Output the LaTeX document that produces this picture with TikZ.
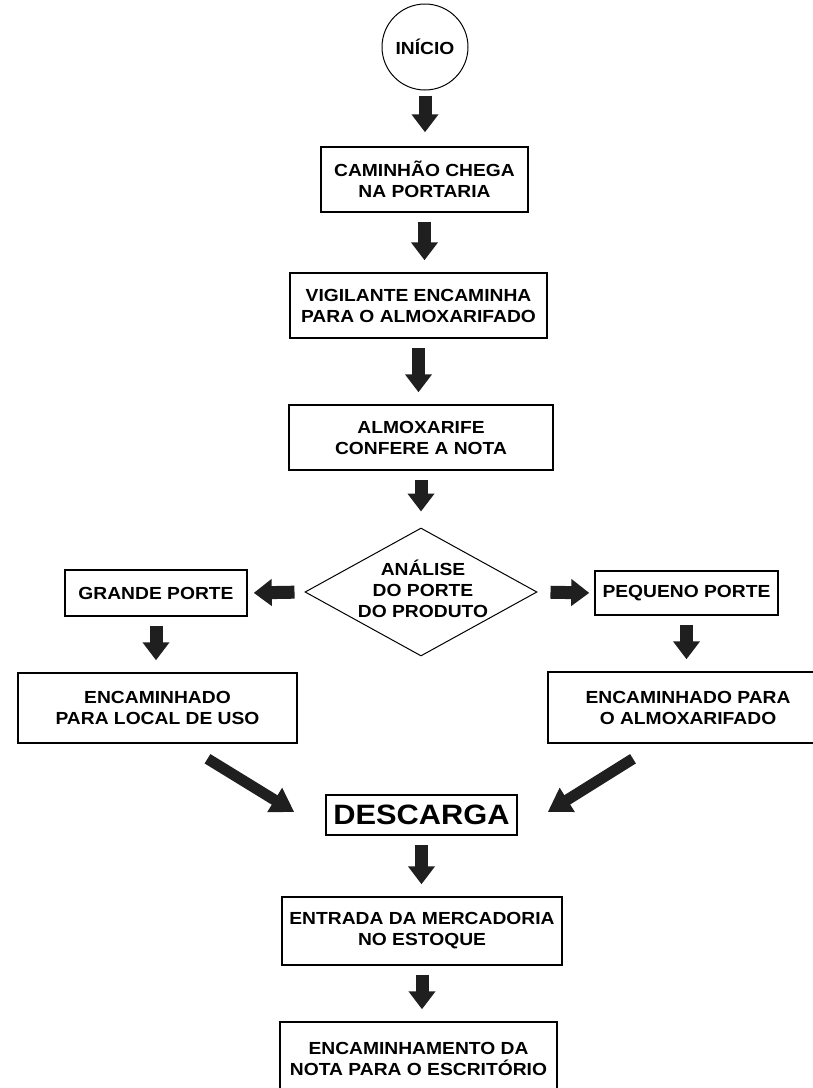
\documentclass[tikz,border=0pt]{standalone}
\usepackage{fontspec}
\newfontfamily\fluxo{Liberation Sans}[FakeStretch=1.1]
\usetikzlibrary{arrows.meta,shapes.geometric}

\begin{document}
\begin{tikzpicture}[x=1pt,y=-1pt,
		caixa/.style={draw,line width=1.5pt,inner sep=0pt,align=center,
			font=\fluxo\bfseries\fontsize{17.5}{21}\selectfont},
		texto/.style={inner sep=0pt,align=center,
			font=\fluxo\bfseries\fontsize{17.5}{21}\selectfont},
		seta/.style={line width=13pt,black!88,-{Triangle[width=26pt,length=18pt]},
			shorten <=9pt,shorten >=12pt},
		diagonal/.style={line width=11pt,black!88,-{Triangle[width=27pt,length=23pt]}}]
		\useasboundingbox (0,0) rectangle (813,1088);
		% coluna central
		\node[texto,circle,draw,line width=1pt,minimum size=86pt] (inicio) at (425,47) {INÍCIO};
		\node[caixa,minimum width=207pt,minimum height=65pt] (caminhao) at (424.5,179.5) {CAMINHÃO CHEGA\\NA PORTARIA};
		\node[caixa,minimum width=257pt,minimum height=65pt] (vigilante) at (418.5,305.5) {VIGILANTE ENCAMINHA\\PARA O ALMOXARIFADO};
		\node[caixa,minimum width=264pt,minimum height=65pt] (almoxarife) at (421,437.5) {ALMOXARIFE\\CONFERE A NOTA};
		\node[diamond,draw,line width=1pt,minimum width=232pt,minimum height=128pt,inner sep=0pt] (analise) at (421,592) {};
		\node[texto] (analisetxt) at (423,588.5) {ANÁLISE\\DO PORTE\\DO PRODUTO};
		% ramos
		\node[caixa,minimum width=182pt,minimum height=46pt] (grande) at (156,593) {GRANDE PORTE};
		\node[caixa,minimum width=183pt,minimum height=44pt] (pequeno) at (686.5,593) {PEQUENO PORTE};
		\node[caixa,minimum width=279pt,minimum height=70pt] (localuso) at (157.5,708) {ENCAMINHADO\\PARA LOCAL DE USO};
		\node[caixa,minimum width=280pt,minimum height=71pt] (almoxpeq) at (688,707.5) {ENCAMINHADO PARA\\O ALMOXARIFADO};
		% final
		\node[caixa,minimum width=191pt,minimum height=40pt,font=\fluxo\bfseries\fontsize{28}{30}\selectfont] (descarga) at (421.5,815) {DESCARGA};
		\node[caixa,minimum width=280pt,minimum height=68pt] (entrada) at (422,931) {ENTRADA DA MERCADORIA\\NO ESTOQUE};
		\node[caixa,minimum width=277pt,minimum height=74pt] (escritorio) at (418.5,1059) {ENCAMINHAMENTO DA\\NOTA PARA O ESCRITÓRIO};

		\draw[seta,shorten <=5pt,shorten >=14pt] (inicio.south) -- (inicio.south |- caminhao.north);
		\draw[seta] (caminhao.south) -- (caminhao.south |- vigilante.north);
		\draw[seta] (vigilante.south) -- (vigilante.south |- almoxarife.north);
		\draw[seta,shorten >=16pt] (almoxarife.south) -- (almoxarife.south |- analise.north);
		\draw[seta,shorten <=10pt,shorten >=6pt] (analise.west) -- (grande.east);
		\draw[seta,shorten <=13pt,shorten >=5pt] (analise.east) -- (pequeno.west);
		\draw[seta] (grande.south) -- (grande.south |- localuso.north);
		\draw[seta] (pequeno.south) -- (pequeno.south |- almoxpeq.north);
		\draw[diagonal] ([xshift=50pt,yshift=-15pt]localuso.south) -- ([xshift=-31pt,yshift=3pt]descarga.west);
		\draw[diagonal] ([xshift=-55pt,yshift=-15pt]almoxpeq.south) -- ([xshift=30pt,yshift=3pt]descarga.east);
		\draw[seta] (descarga.south) -- (descarga.south |- entrada.north);
		\draw[seta] (entrada.south) -- (entrada.south |- escritorio.north);
	\end{tikzpicture}
\end{document}
